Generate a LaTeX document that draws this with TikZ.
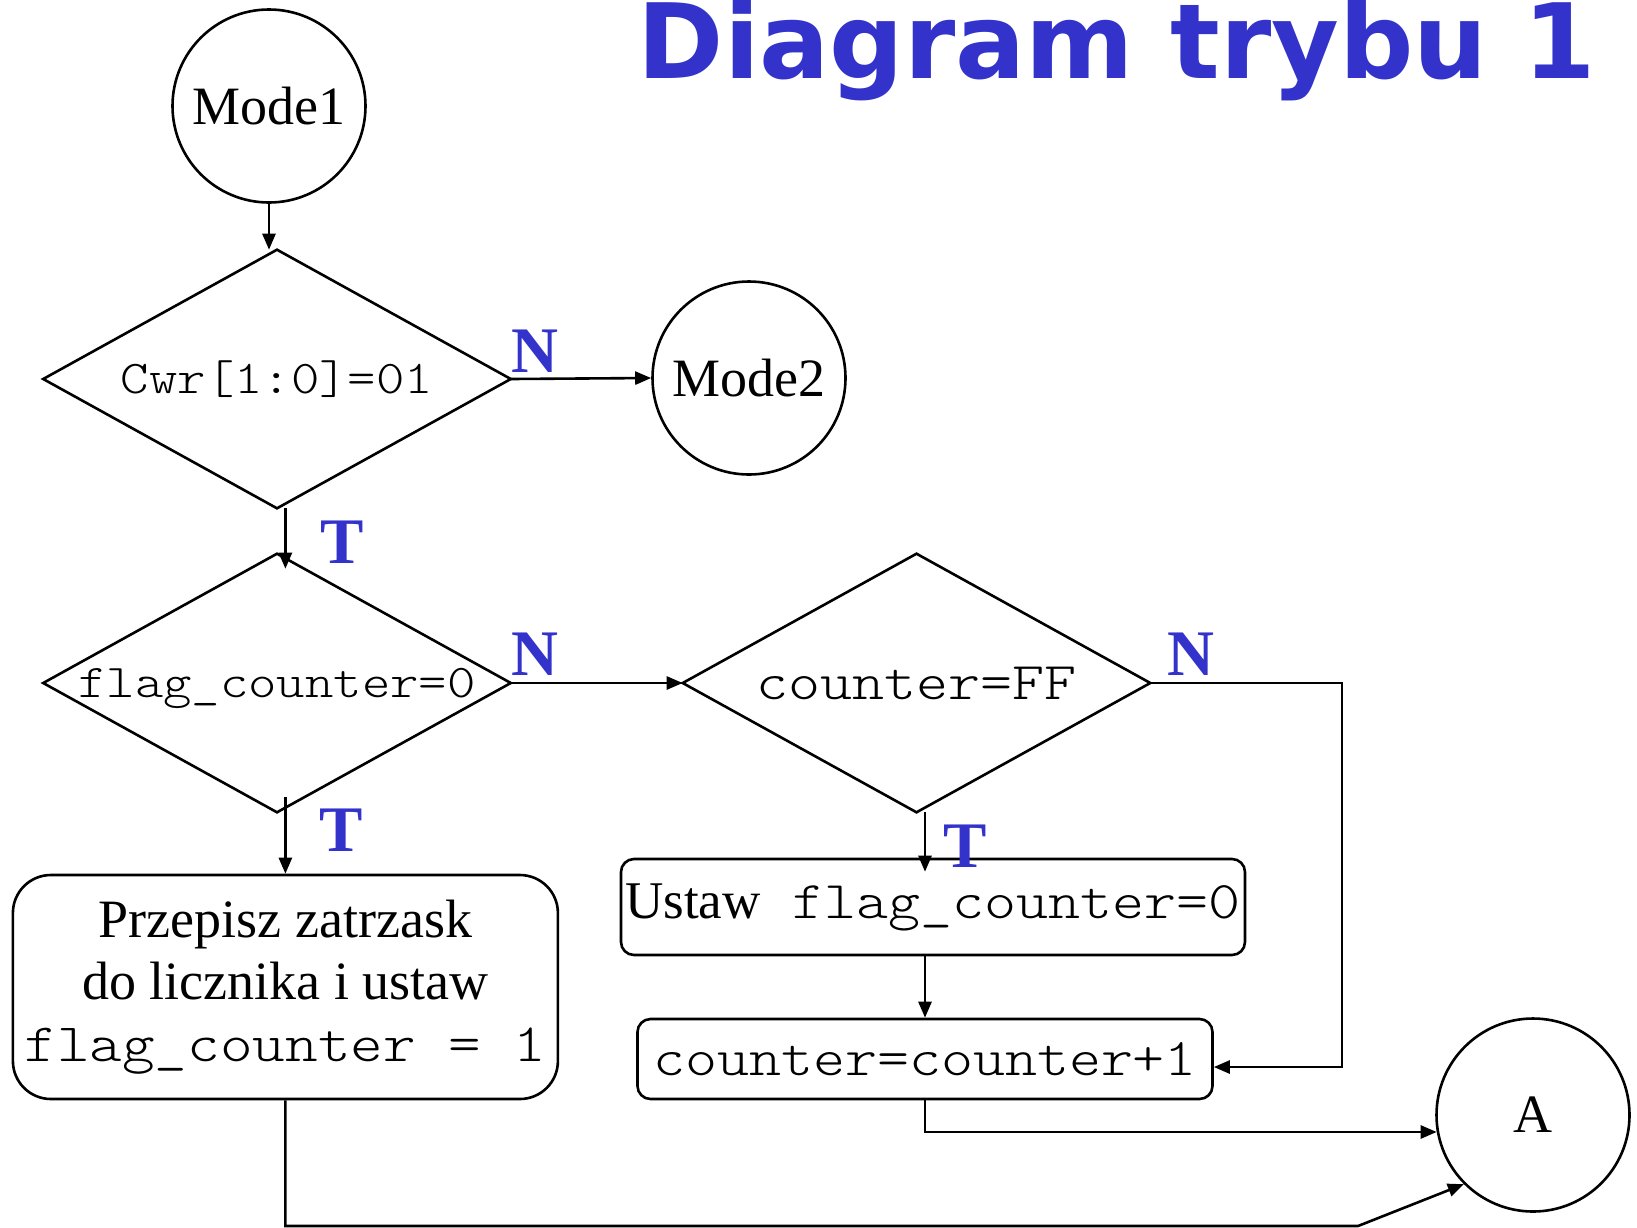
\documentclass[tikz,border=0pt]{standalone}
\usepackage{fontspec}
\setmainfont{Liberation Serif}
\setmonofont{lmmonolt10-regular.otf}[FakeStretch=1.15]
\newfontfamily\titlefont{DejaVu Sans}
\usetikzlibrary{arrows.meta,calc}
\definecolor{labelblue}{RGB}{51,51,204}
\begin{document}
\begin{tikzpicture}[x=1pt,y=-1pt,
  line width=2.6pt,
  conn/.style={line width=2.6pt,-{Triangle[length=16pt,width=13pt]}},
  term/.style={circle,draw,line width=2.6pt,minimum size=193pt,inner sep=0pt,
    font=\fontsize{54}{60}\selectfont},
  decision/.style={rectangle,minimum width=465pt,minimum height=256pt,inner sep=0pt},
  rhomb/.style={line width=2.6pt,line join=miter},
  process/.style={draw,rounded corners=13pt,line width=2.6pt,inner sep=0pt},
  lbl/.style={anchor=base,inner sep=0pt,text=labelblue,
    font=\fontsize{65}{65}\selectfont\bfseries},
]
\useasboundingbox (0,0) rectangle (1637,1227);

% heading
\node[anchor=base,inner sep=0pt,text=labelblue,
  font=\titlefont\fontsize{104}{110}\selectfont\bfseries] (title) at (1117,78) {Diagram trybu 1};

% terminals
\node[term] (m1) at (269,106) {Mode1};
\node[term] (m2) at (749,378) {Mode2};
\node[term] (a) at (1533,1115) {A};

% decisions: text nodes with the rhombus drawn through their side anchors
\node[decision,font=\ttfamily\fontsize{47}{50}\selectfont] (d1) at (277,379) {Cwr[1:0]=01};
\node[decision,text depth=0pt,font=\ttfamily\fontsize{47}{50}\selectfont] (d2) at (277,683) {flag\_counter=0};
\node[decision,font=\ttfamily\fontsize{53}{55}\selectfont] (d3) at (916.5,683) {counter=FF};
\foreach \d in {d1,d2,d3}
  \draw[rhomb] (\d.west) -- (\d.north) -- (\d.east) -- (\d.south) -- cycle;

% actions
\node[process,rounded corners=38pt,minimum width=545pt,minimum height=224pt,
  align=center,font=\fontsize{54}{62}\selectfont] (pz) at (285.4,987)
  {Przepisz zatrzask\\do licznika i ustaw\\\texttt{flag\_counter = 1}};
\node[process,minimum width=624pt,minimum height=96pt,
  font=\fontsize{53}{55}\selectfont] (us) at (933,907)
  {Ustaw\texttt{ flag\_counter=0}};
\node[process,minimum width=575pt,minimum height=80pt,
  font=\ttfamily\fontsize{53}{55}\selectfont] (cc) at (925,1059)
  {counter=counter+1};

% connectors
\draw[conn] (m1.south) -- (m1.south |- d1.north);
\draw[conn] (d1.east) -- (m2.west);
\draw[conn] (d1.south -| pz.north) -- ($(d2.north -| pz.north)+(0,15)$);
\draw[conn] (d2.east) -- (d3.west);
\draw[conn] ($(d2.south -| pz.north)+(0,-15)$) -- (pz.north);
\draw[conn] (d3.south -| cc.north) -- ($(us.north -| cc.north)+(0,14)$);
\draw[conn] (us.south -| cc.north) -- (cc.north);
\draw[conn] (d3.east) -| ($(cc.east)+(128,8)$) -- ($(cc.east)+(0,8)$);
\draw[conn] (cc.south) |- (a.190);
\coordinate (bend) at (1358,1226);
\draw[conn] (pz.south) |- (bend) -- (a.225);

% branch labels
\node[lbl] (n1) at (535,372) {N};
\node[lbl] (n2) at (535,675) {N};
\node[lbl] (n3) at (1191,675) {N};
\node[lbl] (t1) at (342,563) {T};
\node[lbl] (t2) at (341,851) {T};
\node[lbl] (t3) at (965.5,867) {T};
\end{tikzpicture}
\end{document}
